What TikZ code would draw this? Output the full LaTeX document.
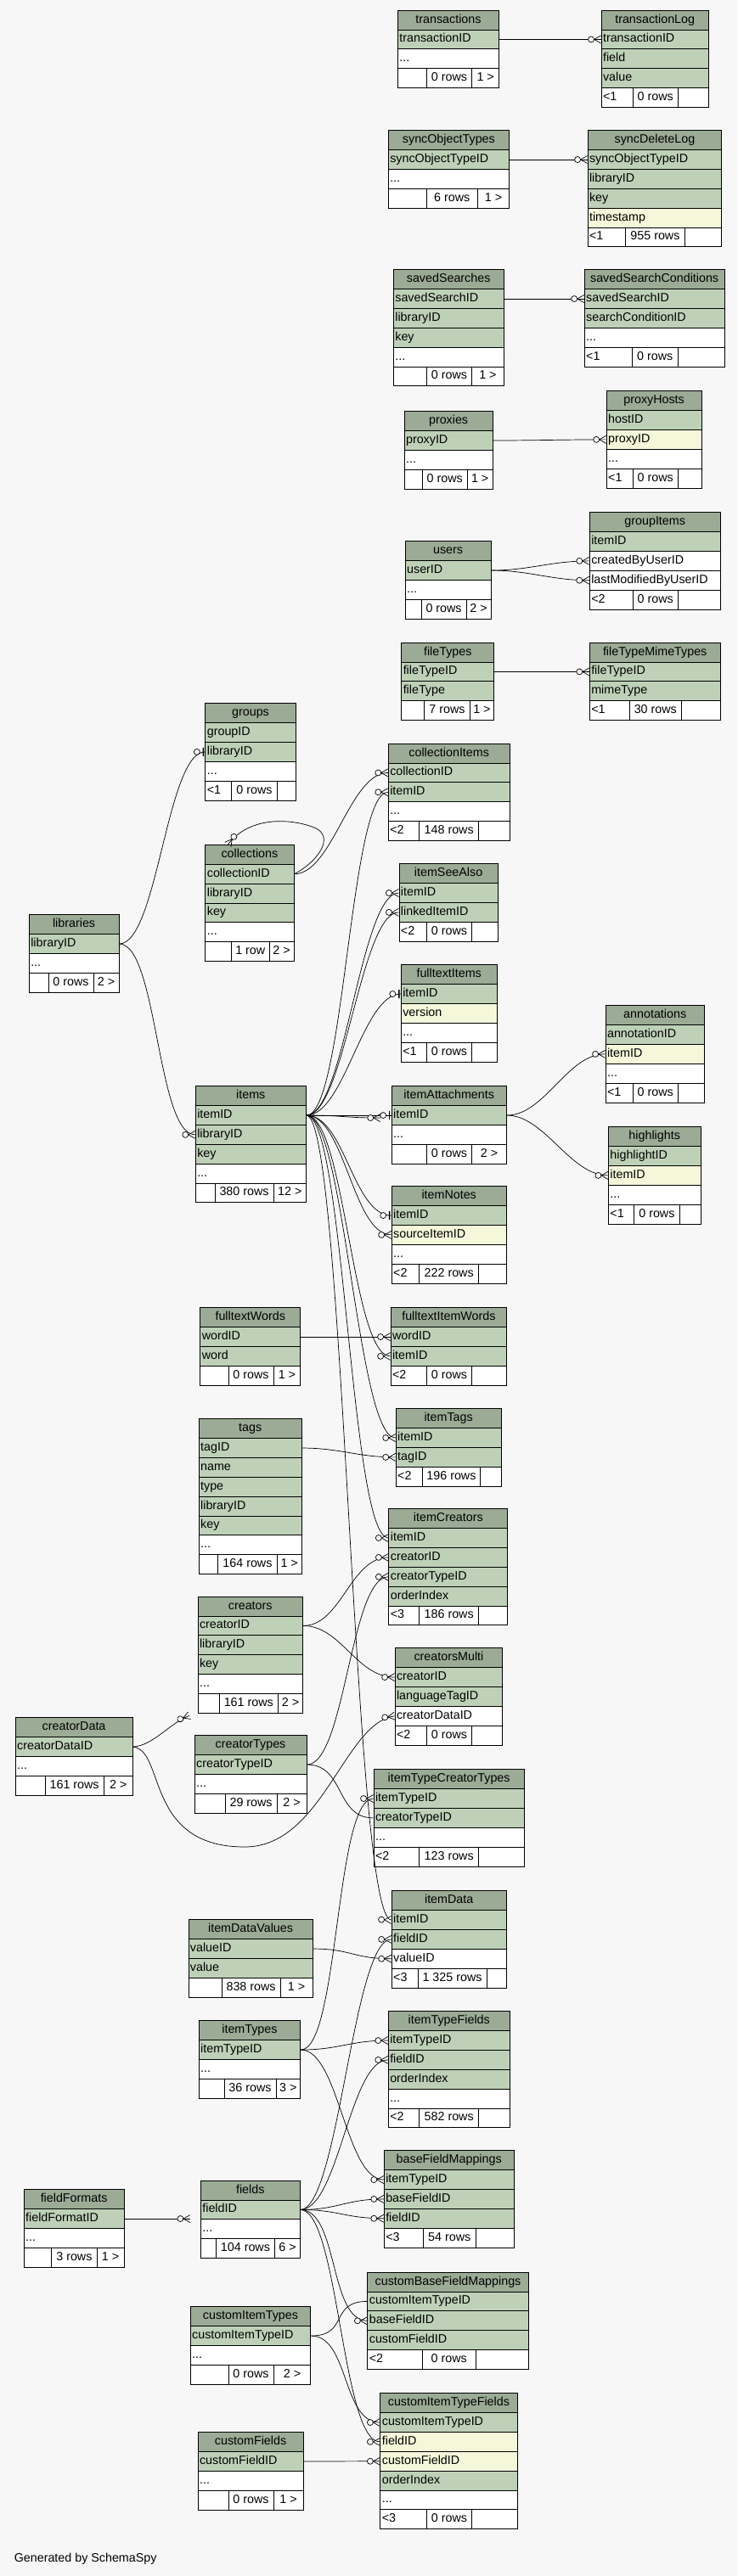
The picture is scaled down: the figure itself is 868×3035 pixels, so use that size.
\documentclass[tikz,border=0pt]{standalone}
\usepackage{fontspec}
\setmainfont{Liberation Sans}
\usetikzlibrary{decorations.markings,calc}
\definecolor{bg}{HTML}{F7F7F7}
\definecolor{hd}{HTML}{9BAB96}
\definecolor{kk}{HTML}{BED1B8}
\definecolor{yy}{HTML}{F4F7DA}
\definecolor{ww}{HTML}{FFFFFF}
\newcommand\rh{22.85}
\newcommand\fs{\fontsize{14.3}{16}\selectfont}
\newcommand\rowdots{...}
\newcommand\crowmark{\draw[line width=0.7pt, fill=bg] (-11.5pt,0pt) circle (3.5pt);
  \draw[line width=0.7pt] (-8pt,0pt) -- (0pt,4.5pt) (-8pt,0pt) -- (0pt,-4.5pt);}
\newcommand\onemark{\draw[line width=0.7pt, fill=bg] (-9.5pt,0pt) circle (3.5pt);
  \draw[line width=1.5pt] (-2pt,-5pt) -- (-2pt,5pt);}
\tikzset{
  hdr/.style={draw, line width=0.9pt, fill=hd, anchor=north west, minimum height=\rh pt,
    inner xsep=2pt, inner ysep=0pt, text height=10pt, text depth=3pt, align=center, font=\fs},
  cell/.style={draw, line width=0.9pt, anchor=north west, minimum height=\rh pt,
    inner xsep=2pt, inner ysep=0pt, text height=10pt, text depth=3pt, align=left, font=\fs},
  fk/.style={line width=0.7pt},
  mk/.style={fk, postaction={decorate, decoration={markings, mark=at position 0.9999 with {\crowmark}}}},
  zo/.style={fk, postaction={decorate, decoration={markings, mark=at position 0.9999 with {\onemark}}}},
  cv/.style={out=0, in=180, distance=45pt},
}
\newcommand\mktable[6]{%
  \pgfmathsetmacro\tw{#4-4}%
  \pgfmathsetmacro\fx{#2}%
  \pgfmathsetmacro\fr{#2+#4}%
  \node[hdr, minimum width=#4pt, text width=\tw pt] (#1) at (#2,#3) {#5};
  \foreach[count=\i] \rc/\rt in {#6}{%
    \node[cell, fill=\rc, minimum width=#4pt, text width=\tw pt] (#1-\i) at (#2,{#3+\i*\rh}) {\rt};
    \xdef\nrow{\i}}%
  \pgfmathsetmacro\fy{#3+(\nrow+1)*\rh}%
}
\newcommand\mkfoot[6]{%
  \pgfmathsetmacro\wa{#2-\fx}\pgfmathsetmacro\wb{#3-#2}\pgfmathsetmacro\wc{\fr-#3}\pgfmathsetmacro\wat{\wa-4}%
  \node[cell, fill=ww, minimum width=\wa pt, text width=\wat pt] (#1-f1) at (\fx,\fy) {#4};
  \node[cell, fill=ww, minimum width=\wb pt] (#1-f2) at (#2,\fy) {#5};
  \node[cell, fill=ww, minimum width=\wc pt] (#1-f3) at (#3,\fy) {#6};
}
\begin{document}
\begin{tikzpicture}[x=1pt, y=-1pt]
\fill[bg] (0,0) rectangle (868,3035);
\useasboundingbox (0,0) rectangle (868,3035);

\mktable{transactions}{468}{11.7}{119}{transactions}{kk/transactionID, ww/\rowdots}
\mkfoot{transactions}{501.7}{555.4}{}{0 rows}{1 >}
\mktable{transactionLog}{707.6}{11.7}{126.3}{transactionLog}{kk/transactionID, kk/field, kk/value}
\mkfoot{transactionLog}{744.7}{797.9}{<1}{0 rows}{}
\mktable{syncObjectTypes}{456.8}{153.3}{142.3}{syncObjectTypes}{kk/syncObjectTypeID, ww/\rowdots}
\mkfoot{syncObjectTypes}{501.7}{562}{}{6 rows}{1 >}
\mktable{syncDeleteLog}{691.6}{153.3}{157.8}{syncDeleteLog}{kk/syncObjectTypeID, kk/libraryID, kk/key, yy/timestamp}
\mkfoot{syncDeleteLog}{736.4}{805.6}{<1}{955 rows}{}
\mktable{savedSearches}{462.9}{317.3}{129.6}{savedSearches}{kk/savedSearchID, kk/libraryID, kk/key, ww/\rowdots}
\mkfoot{savedSearches}{501.7}{555.4}{}{0 rows}{1 >}
\mktable{savedSearchConditions}{687.7}{317.3}{165}{savedSearchConditions}{kk/savedSearchID, kk/searchConditionID, ww/\rowdots}
\mkfoot{savedSearchConditions}{743.6}{797.9}{<1}{0 rows}{}
\mktable{proxies}{475.6}{484.3}{104.1}{proxies}{kk/proxyID, ww/\rowdots}
\mkfoot{proxies}{496.7}{549.8}{}{0 rows}{1 >}
\mktable{proxyHosts}{713.7}{460.3}{111.9}{proxyHosts}{kk/hostID, yy/proxyID, ww/\rowdots}
\mkfoot{proxyHosts}{744.7}{797.9}{<1}{0 rows}{}
\mktable{users}{476.7}{637.3}{100.8}{users}{kk/userID, ww/\rowdots}
\mkfoot{users}{495.6}{548.7}{}{0 rows}{2 >}
\mktable{groupItems}{693.8}{603.3}{153.9}{groupItems}{kk/itemID, ww/createdByUserID, ww/lastModifiedByUserID}
\mkfoot{groupItems}{744.7}{797.9}{<2}{0 rows}{}
\mktable{fileTypes}{472.3}{756.7}{109.1}{fileTypes}{kk/fileTypeID, kk/fileType}
\mkfoot{fileTypes}{499.4}{552.6}{}{7 rows}{1 >}
\mktable{fileTypeMimeTypes}{693.8}{756.7}{153.9}{fileTypeMimeTypes}{kk/fileTypeID, kk/mimeType}
\mkfoot{fileTypeMimeTypes}{740.9}{801.8}{<1}{30 rows}{}
\mktable{groups}{241.4}{828.3}{106.3}{groups}{kk/groupID, kk/libraryID, ww/\rowdots}
\mkfoot{groups}{272.4}{325.6}{<1}{0 rows}{}
\mktable{collectionItems}{456.8}{875.7}{142.9}{collectionItems}{kk/collectionID, kk/itemID, ww/\rowdots}
\mkfoot{collectionItems}{493.4}{563.1}{<2}{148 rows}{}
\mktable{collections}{241.4}{995}{104.1}{collections}{kk/collectionID, kk/libraryID, kk/key, ww/\rowdots}
\mkfoot{collections}{271.9}{316.7}{}{1 row}{2 >}
\mktable{itemSeeAlso}{469.5}{1017.3}{116.3}{itemSeeAlso}{kk/itemID, kk/linkedItemID}
\mkfoot{itemSeeAlso}{501.7}{555.4}{<2}{0 rows}{}
\mktable{libraries}{33.8}{1077.3}{105.7}{libraries}{kk/libraryID, ww/\rowdots}
\mkfoot{libraries}{56.5}{109.6}{}{0 rows}{2 >}
\mktable{fulltextItems}{471.8}{1136.3}{112.9}{fulltextItems}{kk/itemID, yy/version, ww/\rowdots}
\mkfoot{fulltextItems}{501.7}{555.4}{<1}{0 rows}{}
\mktable{annotations}{712.6}{1184.3}{116.3}{annotations}{kk/annotationID, yy/itemID, ww/\rowdots}
\mkfoot{annotations}{744.7}{797.9}{<1}{0 rows}{}
\mktable{items}{229.8}{1279.3}{130.1}{items}{kk/itemID, kk/libraryID, kk/key, ww/\rowdots}
\mkfoot{items}{252.5}{321.7}{}{380 rows}{12 >}
\mktable{itemAttachments}{460.7}{1279.3}{135.1}{itemAttachments}{kk/itemID, ww/\rowdots}
\mkfoot{itemAttachments}{501.7}{555.4}{}{0 rows}{2 >}
\mktable{highlights}{716}{1327.3}{108.5}{highlights}{kk/highlightID, yy/itemID, ww/\rowdots}
\mkfoot{highlights}{745.8}{800.1}{<1}{0 rows}{}
\mktable{itemNotes}{460.7}{1397.3}{135.1}{itemNotes}{kk/itemID, yy/sourceItemID, ww/\rowdots}
\mkfoot{itemNotes}{493.4}{563.1}{<2}{222 rows}{}
\mktable{fulltextWords}{235.3}{1540.3}{118}{fulltextWords}{kk/wordID, kk/word}
\mkfoot{fulltextWords}{268.5}{321.7}{}{0 rows}{1 >}
\mktable{fulltextItemWords}{459.6}{1540.3}{136.7}{fulltextItemWords}{kk/wordID, kk/itemID}
\mkfoot{fulltextItemWords}{501.7}{555.4}{<2}{0 rows}{}
\mktable{itemTags}{465.7}{1659.3}{124}{itemTags}{kk/itemID, kk/tagID}
\mkfoot{itemTags}{496.7}{565.3}{<2}{196 rows}{}
\mktable{tags}{233.7}{1671.3}{121.2}{tags}{kk/tagID, kk/name, kk/type, kk/libraryID, kk/key, ww/\rowdots}
\mkfoot{tags}{256.4}{325.6}{}{164 rows}{1 >}
\mktable{itemCreators}{457.4}{1777.3}{140}{itemCreators}{kk/itemID, kk/creatorID, kk/creatorTypeID, kk/orderIndex}
\mkfoot{itemCreators}{493.4}{563.1}{<3}{186 rows}{}
\mktable{creators}{232.6}{1880.7}{123.4}{creators}{kk/creatorID, kk/libraryID, kk/key, ww/\rowdots}
\mkfoot{creators}{257.5}{327.2}{}{161 rows}{2 >}
\mktable{creatorsMulti}{464.6}{1941.3}{126.8}{creatorsMulti}{kk/creatorID, kk/languageTagID, ww/creatorDataID}
\mkfoot{creatorsMulti}{501.7}{555.4}{<2}{0 rows}{}
\mktable{creatorData}{17.7}{2023.3}{137.9}{creatorData}{kk/creatorDataID, ww/\rowdots}
\mkfoot{creatorData}{52.6}{121.8}{}{161 rows}{2 >}
\mktable{creatorTypes}{228.7}{2044.3}{131.8}{creatorTypes}{kk/creatorTypeID, ww/\rowdots}
\mkfoot{creatorTypes}{264.7}{325.6}{}{29 rows}{2 >}
\mktable{itemTypeCreatorTypes}{439.6}{2084.3}{177.2}{itemTypeCreatorTypes}{kk/itemTypeID, kk/creatorTypeID, ww/\rowdots}
\mkfoot{itemTypeCreatorTypes}{493.4}{563.1}{<2}{123 rows}{}
\mktable{itemData}{460.7}{2227.3}{135.1}{itemData}{kk/itemID, kk/fieldID, ww/valueID}
\mkfoot{itemData}{491.7}{572.5}{<3}{1 325 rows}{}
\mktable{itemDataValues}{221.5}{2261.3}{146.2}{itemDataValues}{kk/valueID, kk/value}
\mkfoot{itemDataValues}{260.8}{329.5}{}{838 rows}{1 >}
\mktable{itemTypes}{233.7}{2380.3}{119.6}{itemTypes}{kk/itemTypeID, ww/\rowdots}
\mkfoot{itemTypes}{263.6}{324.5}{}{36 rows}{3 >}
\mktable{itemTypeFields}{456.8}{2369.3}{142.9}{itemTypeFields}{kk/itemTypeID, kk/fieldID, kk/orderIndex, ww/\rowdots}
\mkfoot{itemTypeFields}{493.4}{563.1}{<2}{582 rows}{}
\mktable{baseFieldMappings}{451.8}{2533.3}{152.9}{baseFieldMappings}{kk/itemTypeID, kk/baseFieldID, kk/fieldID}
\mkfoot{baseFieldMappings}{497.8}{559.8}{<3}{54 rows}{}
\mktable{fieldFormats}{27.7}{2579.3}{117.9}{fieldFormats}{kk/fieldFormatID, ww/\rowdots}
\mkfoot{fieldFormats}{60.4}{113.5}{}{3 rows}{1 >}
\mktable{fields}{235.9}{2568.7}{116.8}{fields}{kk/fieldID, ww/\rowdots}
\mkfoot{fields}{253.6}{323.4}{}{104 rows}{6 >}
\mktable{customBaseFieldMappings}{432.4}{2676.7}{189.4}{customBaseFieldMappings}{kk/customItemTypeID, kk/baseFieldID, kk/customFieldID}
\mkfoot{customBaseFieldMappings}{496.7}{559.8}{<2}{0 rows}{}
\mktable{customItemTypes}{223.7}{2717.3}{141.7}{customItemTypes}{kk/customItemTypeID, ww/\rowdots}
\mkfoot{customItemTypes}{268.5}{321.7}{}{0 rows}{2 >}
\mktable{customItemTypeFields}{447.4}{2819.3}{161.1}{customItemTypeFields}{kk/customItemTypeID, yy/fieldID, yy/customFieldID, kk/orderIndex, ww/\rowdots}
\mkfoot{customItemTypeFields}{501.7}{555.4}{<3}{0 rows}{}
\mktable{customFields}{232.6}{2865.3}{124}{customFields}{kk/customFieldID, ww/\rowdots}
\mkfoot{customFields}{268.5}{321.7}{}{0 rows}{1 >}

\node[anchor=west, inner sep=0pt, font=\fs] (gen) at (16.6,3015) {Generated by SchemaSpy};

% connectors
\draw[mk] (transactions-1.east) -- (transactionLog-1.west);
\draw[mk] (syncObjectTypes-1.east) -- (syncDeleteLog-1.west);
\draw[mk] (savedSearches-1.east) -- (savedSearchConditions-1.west);
\draw[mk] (proxies-1.east) to[cv] (proxyHosts-2.west);
\draw[mk] (users-1.east) to[cv] (groupItems-2.west);
\draw[mk] (users-1.east) to[cv] (groupItems-3.west);
\draw[mk] (fileTypes-1.east) -- (fileTypeMimeTypes-1.west);
\draw[zo] (libraries-1.east) to[cv] (groups-2.west);
\draw[mk] (libraries-1.east) to[cv] (items-2.west);
\draw[mk] (collections-1.east) .. controls (375,1015) and (395,985) .. (370,975) .. controls (345,965) and (295,960) .. ([xshift=27pt]collections.north west);
\draw[mk] (collections-1.east) to[cv] (collectionItems-1.west);
\draw[mk] (items-1.east) to[cv] (collectionItems-2.west);
\draw[mk] (items-1.east) to[cv] (itemSeeAlso-1.west);
\draw[mk] (items-1.east) to[cv] (itemSeeAlso-2.west);
\draw[zo] (items-1.east) to[cv] (fulltextItems-1.west);
\draw[zo] (items-1.east) -- (itemAttachments-1.west);
\draw[mk] (items-1.east) to[cv] ([xshift=-13pt,yshift=-3pt]itemAttachments-1.west);
\draw[zo] (items-1.east) to[cv] (itemNotes-1.west);
\draw[mk] (items-1.east) to[cv] (itemNotes-2.west);
\draw[mk] (items-1.east) to[cv] (fulltextItemWords-2.west);
\draw[mk] (items-1.east) to[cv] (itemTags-1.west);
\draw[mk] (items-1.east) to[cv] (itemCreators-1.west);
\draw[mk] (items-1.east) to[cv] (itemData-1.west);
\draw[mk] (itemAttachments-1.east) to[cv] (annotations-2.west);
\draw[mk] (itemAttachments-1.east) to[cv] (highlights-2.west);
\draw[mk] (fulltextWords-1.east) -- (fulltextItemWords-1.west);
\draw[mk] (tags-1.east) to[cv] (itemTags-2.west);
\draw[mk] (creators-1.east) to[cv] (itemCreators-2.west);
\draw[mk] (creators-1.east) to[cv] (creatorsMulti-1.west);
\draw[mk] (creatorTypes-1.east) to[cv] (itemCreators-3.west);
\draw[mk] (creatorTypes-1.east) to[cv] (itemTypeCreatorTypes-2.west);
\draw[mk] (creatorData-1.east) .. controls (180,2057) and (200,2030) .. ([xshift=-9.5pt,yshift=-2.5pt]creators-f1.south west);
\draw[mk] (creatorData-1.east) .. controls (195,2062) and (170,2176) .. (288,2176) .. controls (380,2176) and (405,2030) .. (creatorsMulti-3.west);
\draw[mk] (itemTypes-1.east) to[cv] (itemTypeCreatorTypes-1.west);
\draw[mk] (itemTypes-1.east) to[cv] (itemTypeFields-1.west);
\draw[mk] (itemTypes-1.east) to[cv] (baseFieldMappings-1.west);
\draw[mk] (itemDataValues-1.east) to[cv] (itemData-3.west);
\draw[mk] (fields-1.east) to[cv] (itemData-2.west);
\draw[mk] (fields-1.east) to[cv] (itemTypeFields-2.west);
\draw[mk] (fields-1.east) to[cv] (baseFieldMappings-2.west);
\draw[mk] (fields-1.east) to[cv] (baseFieldMappings-3.west);
\draw[mk] (fields-1.east) to[cv] (customBaseFieldMappings-2.west);
\draw[mk] (fields-1.east) to[cv] (customItemTypeFields-2.west);
\draw[mk] (fieldFormats-1.east) -- ($(fieldFormats-1.east -| fields.west)+(-12,0)$);
\draw[mk] (customItemTypes-1.east) to[cv] (customBaseFieldMappings-1.west);
\draw[mk] (customItemTypes-1.east) to[cv] (customItemTypeFields-1.west);
\draw[mk] (customFields-1.east) -- (customItemTypeFields-3.west);
\end{tikzpicture}
\end{document}
